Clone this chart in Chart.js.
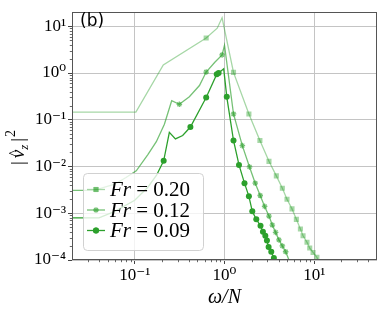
<!DOCTYPE html>
<html><head><meta charset="utf-8">
<script src="https://cdn.jsdelivr.net/npm/chart.js@4/dist/chart.umd.min.js"></script>
<style>html,body{margin:0;padding:0;background:#fff;overflow:hidden}</style>
</head><body>
<canvas id="c" width="382" height="312"></canvas>
<script>
// ---------------- DATA ----------------
const seriesLabels = ['0.20', '0.12', '0.09'];

const fr020X = [0.0197, 0.103, 0.208, 0.625, 0.83, 0.94, 1.26, 1.87, 2.48, 3.13, 3.78, 4.41, 4.97, 5.65, 6.32, 7.01, 7.5, 8.3, 8.9, 9.7, 10.7, 11.6];
const fr020Y = [0.146, 0.146, 1.49, 5.6, 9.1, 15.2, 1.03, 0.133, 0.036, 0.0129, 0.0063, 0.00344, 0.0020, 0.00124, 0.00074, 0.00046, 0.00033, 0.00024, 0.00018, 0.000145, 0.000114, 0.00008];

const fr012X = [0.0197, 0.035, 0.06, 0.08, 0.104, 0.14, 0.174, 0.214, 0.258, 0.314, 0.406, 0.526, 0.625, 0.78, 0.94, 1.0, 1.26, 1.58, 1.90, 2.20, 2.50, 2.80, 3.13, 3.41, 3.71, 4.04, 4.41, 4.80, 5.23];
const fr012Y = [0.0031, 0.0031, 0.0042, 0.0058, 0.0081, 0.018, 0.034, 0.08, 0.255, 0.214, 0.31, 0.54, 1.05, 1.7, 2.44, 3.93, 0.133, 0.028, 0.0098, 0.0044, 0.0024, 0.0014, 0.00087, 0.00056, 0.00039, 0.00027, 0.00020, 0.00015, 0.0001];

const fr009X = [0.0197, 0.04, 0.06, 0.1, 0.14, 0.175, 0.21, 0.243, 0.284, 0.342, 0.417, 0.625, 0.82, 0.86, 0.98, 1.06, 1.26, 1.45, 1.67, 1.87, 2.04, 2.26, 2.52, 2.68, 2.85, 2.97, 3.10, 3.32, 3.55, 3.8];
const fr009Y = [0.0008, 0.0008, 0.0011, 0.0019, 0.0036, 0.0065, 0.0132, 0.054, 0.039, 0.046, 0.070, 0.30, 0.94, 1.0, 1.23, 0.31, 0.036, 0.0108, 0.0044, 0.0023, 0.0011, 0.00074, 0.00054, 0.0004, 0.00033, 0.00026, 0.00019, 0.00015, 0.00011, 0.00007];

const xTickValues = [0.1, 1, 10];
const xTickLabels = ['10⁻¹', '10⁰', '10¹'];
const yTickValues = [1e-4, 1e-3, 1e-2, 1e-1, 1, 10];
const yTickLabels = ['10⁻⁴', '10⁻³', '10⁻²', '10⁻¹', '10⁰', '10¹'];

// ---------------- STYLE ----------------
const markIdx020 = [3, 6, 7, 8, 9, 10, 11, 12, 13, 14, 15, 16, 17, 18, 19, 20];
const markIdx012 = [9, 12, 14, 16, 17, 18, 19, 20, 21, 22, 23, 24, 25, 26, 27];
const markIdx009 = [6, 10, 11, 12, 13, 15, 16, 17, 18, 19, 20, 21, 22, 23, 24, 25, 26, 27, 28];
const GREEN = [44, 160, 44];
const rgba = a => `rgba(${GREEN[0]},${GREEN[1]},${GREEN[2]},${a})`;
const styles = [
  {color: rgba(0.42), style: 'rect', r: 3.6, marks: markIdx020, order: 3},
  {color: rgba(0.65), style: 'star', r: 2.8, marks: markIdx012, order: 2},
  {color: rgba(1), style: 'circle', r: 3, marks: markIdx009, order: 1}
];
const SERIF = "'Liberation Serif', 'DejaVu Serif', serif";

const toPts = (xs, ys) => xs.map((x, i) => ({x: x, y: ys[i]}));
const seriesData = [toPts(fr020X, fr020Y), toPts(fr012X, fr012Y), toPts(fr009X, fr009Y)];

const datasets = seriesData.map((d, k) => {
  const s = styles[k];
  return {
    label: 'Fr = ' + seriesLabels[k],
    data: d,
    showLine: true,
    borderColor: s.color,
    backgroundColor: s.color,
    pointBackgroundColor: s.color,
    pointBorderColor: s.color,
    borderWidth: 1.3,
    pointBorderWidth: s.style === 'star' ? 1.3 : 0,
    pointStyle: s.style,
    pointRadius: ctx => s.marks.includes(ctx.dataIndex) ? s.r : 0,
    pointHoverRadius: ctx => s.marks.includes(ctx.dataIndex) ? s.r : 0,
    tension: 0,
    order: s.order
  };
});

const decorPlugin = {
  id: 'decor',
  afterDraw(chart) {
    const ctx = chart.ctx, ca = chart.chartArea;
    const xs = chart.scales.x, ys = chart.scales.y;
    ctx.save();
    // minor ticks
    ctx.strokeStyle = '#444'; ctx.lineWidth = 0.8;
    for (let d = -5; d <= 2; d++) {
      for (let k = 2; k <= 9; k++) {
        const v = k * Math.pow(10, d);
        if (v > xs.min && v < xs.max) {
          const px = Math.round(xs.getPixelForValue(v)) + 0.5;
          ctx.beginPath(); ctx.moveTo(px, ca.bottom); ctx.lineTo(px, ca.bottom + 2.2); ctx.stroke();
        }
        if (v > ys.min && v < ys.max) {
          const py = Math.round(ys.getPixelForValue(v)) + 0.5;
          ctx.beginPath(); ctx.moveTo(ca.left, py); ctx.lineTo(ca.left - 2.2, py); ctx.stroke();
        }
      }
    }
    // frame
    ctx.strokeStyle = '#555'; ctx.lineWidth = 1;
    ctx.strokeRect(Math.round(ca.left) + 0.5, Math.round(ca.top) + 0.5, Math.round(ca.right - ca.left) - 1, Math.round(ca.bottom - ca.top) - 1);

    // (b) label
    ctx.fillStyle = '#000';
    ctx.font = "17px 'DejaVu Sans', sans-serif";
    ctx.textBaseline = 'alphabetic'; ctx.textAlign = 'left';
    ctx.fillText('(b)', 80, 26);

    // legend
    const bx = 83, by = 173, bw = 120, bh = 77;
    ctx.beginPath();
    ctx.roundRect(bx + 0.5, by + 0.5, bw, bh, 4);
    ctx.fillStyle = 'rgba(255,255,255,0.8)'; ctx.fill();
    ctx.strokeStyle = 'rgba(204,204,204,0.9)'; ctx.lineWidth = 1; ctx.stroke();
    const rows = [189.5, 210, 230.5];
    datasets.forEach((ds, k) => {
      const s = styles[k], y = rows[k];
      ctx.strokeStyle = s.color; ctx.lineWidth = 1.3;
      ctx.beginPath(); ctx.moveTo(87, y); ctx.lineTo(105, y); ctx.stroke();
      ctx.fillStyle = s.color;
      Chart.helpers.drawPoint(ctx, {pointStyle: s.style, radius: s.r, borderWidth: s.style === 'star' ? 1.3 : 0}, 96, y);
      if (s.style !== 'star') ctx.fill();
      ctx.fillStyle = '#000'; ctx.textBaseline = 'middle';
      ctx.font = 'italic 21px ' + SERIF;
      ctx.fillText('Fr', 110, y + 1);
      const w = ctx.measureText('Fr').width;
      ctx.font = '21px ' + SERIF;
      ctx.fillText(' = ' + seriesLabels[k], 110 + w, y + 1);
    });

    // y title |v̂_z|^2
    ctx.translate(18, 0);
    ctx.rotate(-Math.PI / 2);
    ctx.fillStyle = '#000'; ctx.textBaseline = 'alphabetic';
    let u = -165; const v0 = 6;
    ctx.font = '19px ' + SERIF; ctx.fillText('|', u, v0); u += ctx.measureText('|').width + 3;
    ctx.font = 'italic 19px ' + SERIF; ctx.fillText('v', u, v0);
    const vw = ctx.measureText('v').width;
    ctx.font = '15px ' + SERIF; ctx.fillText('^', u + 1.5, v0 - 5);
    u += vw;
    ctx.font = 'italic 13px ' + SERIF; ctx.fillText('z', u, v0 + 4); u += ctx.measureText('z').width + 3;
    ctx.font = '19px ' + SERIF; ctx.fillText('|', u, v0); u += ctx.measureText('|').width;
    ctx.font = '14px ' + SERIF; ctx.fillText('2', u + 1, v0 - 9);
    ctx.restore();
  }
};

new Chart(document.getElementById('c'), {
  type: 'scatter',
  data: {datasets: datasets},
  options: {
    responsive: false,
    animation: false,
    devicePixelRatio: 1,
    layout: {padding: {top: 5, right: 5, left: 0, bottom: 0}},
    plugins: {legend: {display: false}, tooltip: {enabled: false}},
    scales: {
      x: {
        type: 'logarithmic', min: 0.02, max: 50,
        afterBuildTicks: s => { s.ticks = xTickValues.map(v => ({value: v})); },
        afterFit: s => { s.height = 52; },
        ticks: {
          callback: v => xTickLabels[xTickValues.findIndex(t => Math.abs(t - v) / t < 1e-6)],
          font: {family: SERIF, size: 17}, color: '#000', padding: 1, maxRotation: 0, autoSkip: false
        },
        grid: {color: '#c4c4c4', lineWidth: 1, tickLength: 4, tickColor: '#444', drawTicks: true},
        border: {display: false},
        title: {display: true, text: 'ω/N', font: {family: SERIF, size: 20, style: 'italic'}, color: '#000', padding: {top: 0, bottom: 2}}
      },
      y: {
        type: 'logarithmic', min: 1e-4, max: 20,
        afterBuildTicks: s => { s.ticks = yTickValues.map(v => ({value: v})); },
        afterFit: s => { s.width = 72; },
        ticks: {
          callback: v => yTickLabels[yTickValues.findIndex(t => Math.abs(t - v) / t < 1e-6)],
          font: {family: SERIF, size: 17}, color: '#000', padding: 2, autoSkip: false
        },
        grid: {color: '#c4c4c4', lineWidth: 1, tickLength: 4, tickColor: '#444', drawTicks: true},
        border: {display: false}
      }
    }
  },
  plugins: [decorPlugin]
});
</script>
</body></html>
